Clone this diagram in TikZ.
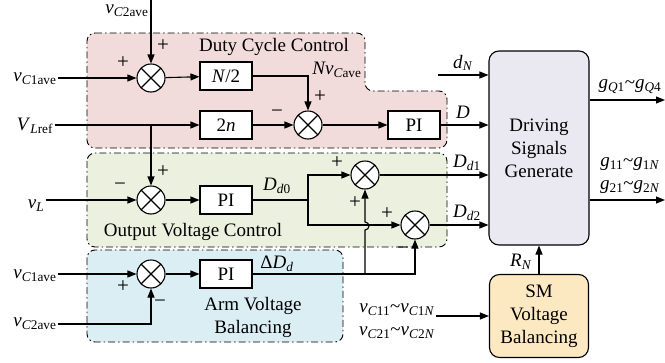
\documentclass[tikz,border=0pt]{standalone}
\usepackage{fontspec}
\setmainfont{Liberation Serif}
\usetikzlibrary{arrows.meta,positioning,calc}
\newcommand{\sym}[2]{\textit{#1}\textsubscript{#2}}
\definecolor{dutyfill}{HTML}{F2DCDB}
\definecolor{outfill}{HTML}{EBF1DE}
\definecolor{armfill}{HTML}{DBEEF4}
\definecolor{drvfill}{HTML}{EAE8F1}
\definecolor{smfill}{HTML}{FCE9C2}

\begin{document}
\begin{tikzpicture}[x=1pt,y=-1pt,line width=1.1pt,
  every node/.style={font=\fontsize{19}{23}\selectfont,inner sep=1pt},
  blk/.style={draw,fill=white,minimum width=52pt,minimum height=28pt,inner sep=0pt},
  sumn/.style={draw,circle,fill=white,minimum size=28pt,inner sep=0pt,
    path picture={\draw (path picture bounding box.north west)--(path picture bounding box.south east)
      (path picture bounding box.north east)--(path picture bounding box.south west);}},
  bigblk/.style={draw,rounded corners=10pt,align=center,minimum width=100pt},
  arr/.style={-{Triangle[length=9pt,width=7pt]}},
  zone/.style={draw,line width=0.9pt,rounded corners=8pt,dash pattern=on 7pt off 3pt on 1.5pt off 3pt},
  sgn/.style={font=\fontsize{21}{21}\selectfont,inner sep=0pt}]
\useasboundingbox (0,0) rectangle (665,362);

% shaded control zones
\path[zone,fill=dutyfill] (87,33) -- (365,33) -- (365,91) -- (447,91) -- (447,148) -- (87,148) -- cycle;
\path[zone,fill=outfill] (87,153) rectangle (447,247);
\path[zone,fill=armfill] (87,250) rectangle (343,342);

% duty cycle control
\node[sumn] (s1) at (151,78) {};
\node[blk] (n2) at (226,76) {\textit{N}/2};
\node[blk] (twon) at (226,125) {2\textit{n}};
\node[sumn] (s2) at (308,125) {};
\node[blk] (pi1) at (414,125) {PI};
\node (vc2top) at (127,11) {\sym{v}{\textit{C}2ave}};
\coordinate (c2top) at (151,0);
\node (vc1a) at (35,79) {\sym{v}{\textit{C}1ave}};
\node (vlref) at (35,126) {\sym{V}{\textit{L}ref}};
\node (dcc) at (274,47) {Duty Cycle Control};
\node (nvc) at (337,70) {\textit{Nv}\textsubscript{\textit{C}ave}};

% output voltage control
\node[sumn] (s3) at (151,200) {};
\node[blk] (pi2) at (226,200) {PI};
\coordinate (j1) at (308,200);
\node[sumn] (s4) at (365,175) {};
\node[sumn] (s5) at (415,225) {};
\node (vl) at (36,206) {\sym{v}{\textit{L}}};
\node (dd0) at (277,186) {\sym{D}{\textit{d}0}};
\node (ovc) at (193,232) {Output Voltage Control};

% arm voltage balancing
\node[sumn] (s6) at (151,274) {};
\node[blk] (pi3) at (226,274) {PI};
\coordinate (j2) at (365,274);
\node (vc1b) at (35,276) {\sym{v}{\textit{C}1ave}};
\node (vc2b) at (35,324) {\sym{v}{\textit{C}2ave}};
\node (ddd) at (277,264) {Δ\sym{D}{\textit{d}}};
\node[align=center] (avb) at (253,317) {Arm Voltage\\Balancing};

% driving signals and SM balancing
\node[bigblk,fill=drvfill,minimum height=194pt] (drv) at (539,148) {Driving\\Signals\\Generate};
\node[bigblk,fill=smfill,minimum height=83pt,minimum width=99pt] (smb) at (539,316) {SM\\Voltage\\Balancing};
\coordinate (dn) at (438,75);
\coordinate (go1) at (665,100);
\coordinate (go2) at (665,200);
\node (dnl) at (463,63) {\sym{d}{\textit{N}}};
\node (dl) at (463,112) {\textit{D}};
\node (dd1) at (467,163) {\sym{D}{\textit{d}1}};
\node (dd2) at (467,213) {\sym{D}{\textit{d}2}};
\node (gq) at (630,87) {\sym{g}{\textit{Q}1}\textasciitilde\sym{g}{\textit{Q}4}};
\node[align=center] (gs) at (630,176) {\sym{g}{11}\textasciitilde\sym{g}{1\textit{N}}\\\sym{g}{21}\textasciitilde\sym{g}{2\textit{N}}};
\node (rn) at (521,262) {\sym{R}{\textit{N}}};
\node[align=center] (vcs) at (397,321) {\sym{v}{\textit{C}11}\textasciitilde\sym{v}{\textit{C}1\textit{N}}\\\sym{v}{\textit{C}21}\textasciitilde\sym{v}{\textit{C}2\textit{N}}};

% signs at the summers
\foreach \k/\x/\y/\s in {a/163/46/+,b/123/63/+,c/320/97/+,d/277/114/−,e/120/187/−,f/163/172/+,
  g/337/163/+,h/355/203/+,i/387/214/+,j/403/251/−,k/123/287/+,l/160/304/−}
  \node[sgn] (sg\k) at (\x,\y) {\s};

% connectors
\draw[arr] (c2top) -- (s1);
\draw[arr] (vc1a.east |- s1) -- (s1);
\draw[arr] (s1) -- (n2);
\draw[arr] (n2) -| (s2);
\draw[arr] (vlref.east |- twon) -- (twon);
\draw[arr] (twon) -- (s2);
\draw[arr] (s2) -- (pi1);
\draw[arr] (pi1) -- (pi1 -| drv.west);
\draw[arr] (s1 |- twon) -- (s3);
\draw[arr] (vl.east |- s3) -- (s3);
\draw[arr] (s3) -- (pi2);
\draw (pi2) -- (j1);
\draw[arr] (j1) |- (s4);
\draw[arr] (j1) |- (s5);
\draw[arr] (s4) -- (s4 -| drv.west);
\draw[arr] (s5) -- (s5 -| drv.west);
\draw[arr] (vc1b.east |- s6) -- (s6);
\draw[arr] (vc2b.east) -| (s6);
\draw[arr] (s6) -- (pi3);
\draw[arr] (pi3) -| (s5);
\draw[arr] (j2) -- ++(0,-44) arc[start angle=90,end angle=-90,radius=4] -- (s4); % hop over D_d2 path
\draw[arr] (dn) -- (dn -| drv.west);
\draw[arr] (go1 -| drv.east) -- (go1);
\draw[arr] (go2 -| drv.east) -- (go2);
\draw[arr] (smb) -- (drv);
\draw[arr] (vcs.east |- smb) -- (smb);
\end{tikzpicture}
\end{document}
